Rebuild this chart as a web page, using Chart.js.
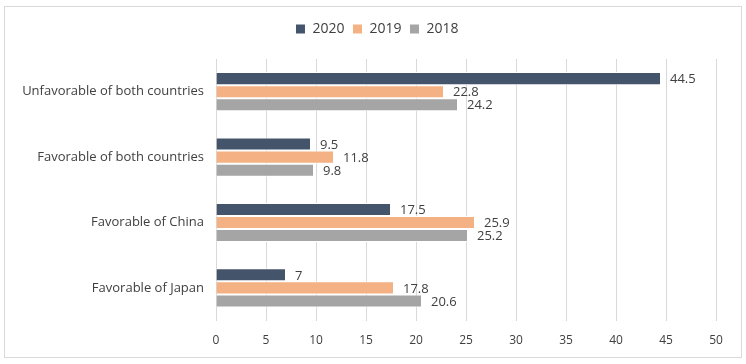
<!DOCTYPE html>
<html>
<head>
<meta charset="utf-8">
<script src="https://cdn.jsdelivr.net/npm/chart.js@4"></script>
<style>
  html, body { margin: 0; padding: 0; background: #fff; }
  #wrap { width: 746px; height: 364px; }
</style>
</head>
<body>
<div id="wrap"><canvas id="chart" width="746" height="364"></canvas></div>
<script>
const categories = ['Unfavorable of both countries', 'Favorable of both countries', 'Favorable of China', 'Favorable of Japan'];
const values2020 = [44.5, 9.5, 17.5, 7];
const values2019 = [22.8, 11.8, 25.9, 17.8];
const values2018 = [24.2, 9.8, 25.2, 20.6];
const xTicks = [0, 5, 10, 15, 20, 25, 30, 35, 40, 45, 50];

// borde exterior del gráfico
const frame = {
  id: 'frame',
  beforeDraw(chart) {
    const c = chart.ctx;
    c.save();
    c.fillStyle = '#fff';
    c.fillRect(0, 0, chart.width, chart.height);
    c.strokeStyle = '#d9d9d9';
    c.lineWidth = 1;
    c.strokeRect(4.5, 6.5, 737, 351);
    c.restore();
  }
};

// espacio extra bajo la leyenda
const legendGap = {
  id: 'legendGap',
  beforeInit(chart) {
    const fit = chart.legend.fit;
    chart.legend.fit = function () {
      fit.call(this);
      this.height += 13;
    };
  }
};

// etiquetas de valor al final de cada barra
const valueLabels = {
  id: 'valueLabels',
  afterDatasetsDraw(chart) {
    const c = chart.ctx;
    c.save();
    c.font = '13px "Open Sans", sans-serif';
    c.fillStyle = '#404040';
    c.textBaseline = 'middle';
    c.textAlign = 'left';
    chart.data.datasets.forEach((ds, i) => {
      chart.getDatasetMeta(i).data.forEach((bar, j) => {
        c.fillText(String(ds.data[j]), bar.x + 9, bar.y + 1);
      });
    });
    c.restore();
  }
};

const data = {
  labels: categories,
  datasets: [
    { label: '2020', data: values2020, backgroundColor: '#44546a' },
    { label: '2019', data: values2019, backgroundColor: '#f4b183' },
    { label: '2018', data: values2018, backgroundColor: '#a5a5a5' }
  ].map(d => Object.assign(d, { borderColor: '#ffffff', borderWidth: 1, categoryPercentage: 0.6, barPercentage: 1 }))
};

const ctx = document.getElementById('chart').getContext('2d');
const myChart = new Chart(ctx, {
  type: 'bar',
  data: data,
  plugins: [frame, legendGap, valueLabels],
  options: {
    indexAxis: 'y',
    responsive: false,
    animation: false,
    layout: { padding: { left: 10, right: 2, top: 14, bottom: 3 } },
    plugins: {
      legend: {
        position: 'top',
        labels: {
          boxWidth: 10, boxHeight: 10, padding: 8,
          color: '#404040',
          font: { family: '"Open Sans", sans-serif', size: 14 }
        }
      },
      tooltip: { enabled: false }
    },
    scales: {
      x: {
        min: 0, max: 50,
        afterBuildTicks(axis) { axis.ticks = xTicks.map(v => ({ value: v })); },
        grid: { color: '#d9d9d9', drawTicks: false },
        border: { display: false },
        ticks: { padding: 13, color: '#404040', font: { family: '"Open Sans", sans-serif', size: 12 } }
      },
      y: {
        grid: { display: false, drawTicks: false },
        border: { display: true, color: '#d9d9d9' },
        ticks: { padding: 12, color: '#404040', font: { family: '"Open Sans", sans-serif', size: 13 } },
        afterFit(scale) { scale.width = 206; }
      },
      yRight: {
        type: 'category',
        position: 'right',
        grid: { display: false, drawTicks: false },
        border: { display: false },
        ticks: { display: false },
        afterFit(scale) { scale.width = 28; }
      }
    }
  }
});
</script>
</body>
</html>
